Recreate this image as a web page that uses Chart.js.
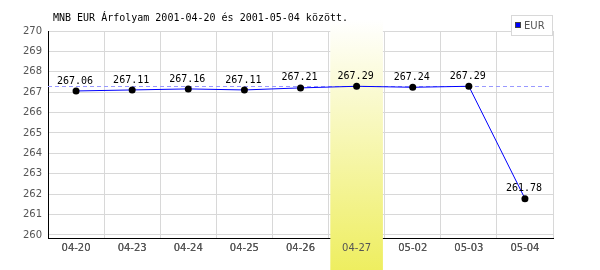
<!DOCTYPE html>
<html lang="hu">
<head>
<meta charset="UTF-8">
<title>MNB EUR Árfolyam</title>
<script src="https://cdn.jsdelivr.net/npm/chart.js"></script>
<style>
  body, html { margin: 0; padding: 0; background: #fff; }
  #wrap { width: 600px; height: 270px; }
</style>
</head>
<body>
<div id="wrap"><canvas id="rateChart" width="600" height="270"></canvas></div>
<script>
const days = ['04-20', '04-23', '04-24', '04-25', '04-26', '04-27', '05-02', '05-03', '05-04'];
const eurRates = [267.06, 267.11, 267.16, 267.11, 267.21, 267.29, 267.24, 267.29, 261.78];
const yTicks = [260, 261, 262, 263, 264, 265, 266, 267, 268, 269, 270];
const refLevel = 267.29;
const highlightDay = '04-27';
const titleText = 'MNB EUR Árfolyam 2001-04-20 és 2001-05-04 között.';

const mono = "'DejaVu Sans Mono', 'Liberation Mono', monospace";

// band, reference line, value labels, title and legend box
const extras = {
  id: 'extras',
  beforeDatasetsDraw(chart) {
    const { ctx, chartArea, scales } = chart;
    const x = scales.x, y = scales.y;
    const i = days.indexOf(highlightDay);
    const cx = x.getPixelForValue(i);
    const half = 26.3;
    const g = ctx.createLinearGradient(0, 20, 0, 270);
    g.addColorStop(0, 'rgba(255,255,255,1)');
    g.addColorStop(1, '#eeee60');
    ctx.save();
    ctx.fillStyle = g;
    ctx.fillRect(cx - half, 20, half * 2, 250);
    // dashed reference line
    const ry = Math.round(y.getPixelForValue(refLevel)) + 0.5;
    ctx.strokeStyle = '#9999ff';
    ctx.lineWidth = 1;
    ctx.setLineDash([4, 3]);
    ctx.beginPath();
    ctx.moveTo(chartArea.left, ry);
    ctx.lineTo(chartArea.right - 3, ry);
    ctx.stroke();
    ctx.restore();
    x.drawLabels(chartArea);
  },
  afterDatasetsDraw(chart) {
    const { ctx } = chart;
    const meta = chart.getDatasetMeta(0);
    ctx.save();
    ctx.font = '10px ' + mono;
    ctx.fillStyle = '#000';
    ctx.textAlign = 'center';
    ctx.textBaseline = 'middle';
    meta.data.forEach((pt, k) => {
      ctx.fillText(eurRates[k].toFixed(2), pt.x - 1, pt.y - 10);
    });
    // title
    ctx.textAlign = 'left';
    ctx.fillText(titleText, 53, 18);
    // legend
    const ds = chart.data.datasets[0];
    ctx.fillStyle = '#fff';
    ctx.fillRect(511.5, 15.5, 41, 20);
    ctx.strokeStyle = '#d8d8d8';
    ctx.lineWidth = 1;
    ctx.strokeRect(511.5, 15.5, 41, 20);
    ctx.fillStyle = ds.borderColor;
    ctx.fillRect(515.5, 22.5, 5, 5);
    ctx.strokeStyle = '#444';
    ctx.strokeRect(515.5, 22.5, 5, 5);
    ctx.fillStyle = '#555';
    ctx.font = "10px 'DejaVu Sans', sans-serif";
    ctx.fillText(ds.label, 524, 26);
    ctx.restore();
  }
};

new Chart(document.getElementById('rateChart'), {
  type: 'line',
  data: {
    labels: days,
    datasets: [{
      label: 'EUR',
      data: eurRates,
      borderColor: '#0000ff',
      borderWidth: 1,
      tension: 0,
      pointRadius: 3.5,
      pointBackgroundColor: '#000',
      pointBorderColor: '#000',
      pointBorderWidth: 0,
      fill: false
    }]
  },
  options: {
    responsive: false,
    animation: false,
    layout: { padding: { top: 31, right: 47, left: 0, bottom: 0 } },
    plugins: {
      legend: { display: false },
      tooltip: { enabled: false }
    },
    scales: {
      x: {
        offset: true,
        grid: { offset: true, color: '#d8d8d8', drawTicks: false },
        border: { color: '#000', width: 1 },
        ticks: {
          color: '#555',
          padding: 4,
          maxRotation: 0,
          font: { family: "'DejaVu Sans', sans-serif", size: 10 }
        },
        afterFit(s) { s.height = 32; }
      },
      y: {
        min: 259.85,
        max: 270,
        afterBuildTicks(s) { s.ticks = yTicks.map(v => ({ value: v })); },
        grid: { color: '#d8d8d8', drawTicks: false },
        border: { color: '#000', width: 1 },
        ticks: {
          color: '#555',
          padding: 6,
          font: { family: "'DejaVu Sans', sans-serif", size: 10 }
        },
        afterFit(s) { s.width = 48; }
      }
    }
  },
  plugins: [extras]
});
</script>
</body>
</html>
